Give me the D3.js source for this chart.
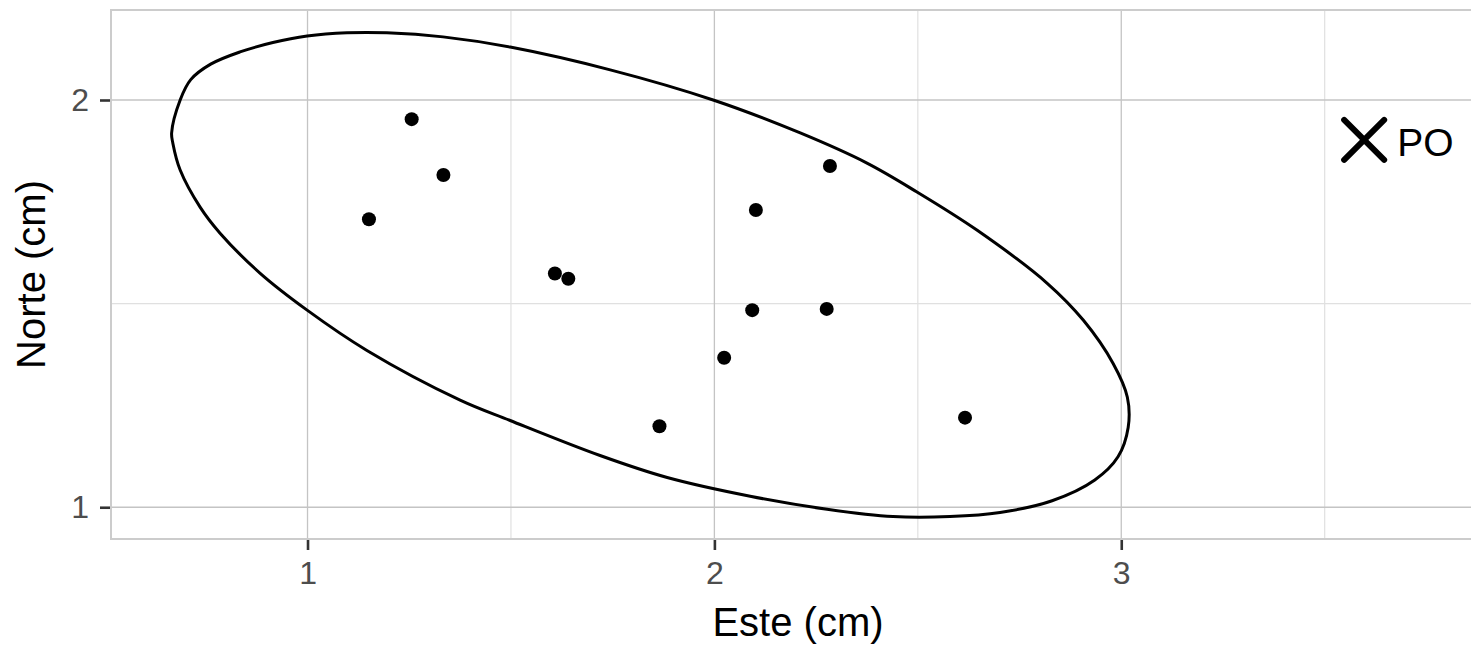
<!DOCTYPE html>
<html>
<head>
<meta charset="utf-8">
<script src="https://cdn.jsdelivr.net/npm/d3@7"></script>
<style>
  body { margin: 0; background: #ffffff; }
  svg { display: block; overflow: hidden; }
</style>
</head>
<body>
<script>
'use strict';

// puntos (Este, Norte) en cm
const esteVals  = [1.151, 1.256, 1.334, 1.608, 1.641, 1.865, 2.024, 2.093, 2.102, 2.276, 2.284, 2.616];
const norteVals = [1.707, 1.953, 1.816, 1.574, 1.561, 1.199, 1.367, 1.484, 1.730, 1.487, 1.838, 1.220];

// punto de observacion
const poLabel = "PO";
const poEste = 3.597;
const poNorte = 1.902;

// contorno de la elipse
const elipseEste = [0.666, 0.687, 0.713, 0.762, 0.834, 0.915, 0.999, 1.097, 1.195, 1.333, 1.498, 1.744, 1.997,
  2.211, 2.375, 2.498, 2.646, 2.818, 2.907, 2.980, 3.015, 3.017, 2.992, 2.935, 2.830, 2.702, 2.579,
  2.439, 2.277, 2.088, 1.884, 1.719, 1.498, 1.375, 1.146, 0.999, 0.883, 0.785, 0.736, 0.687, 0.669];
const elipseNorte = [1.919, 2.000, 2.050, 2.088, 2.118, 2.141, 2.157, 2.165, 2.165, 2.155, 2.130, 2.074, 2.000,
  1.919, 1.845, 1.774, 1.680, 1.550, 1.459, 1.353, 1.270, 1.196, 1.124, 1.067, 1.016, 0.987, 0.977,
  0.977, 0.995, 1.027, 1.073, 1.127, 1.213, 1.263, 1.385, 1.484, 1.575, 1.673, 1.737, 1.828, 1.894];

const xTicks = [1, 2, 3];
const yTicks = [1, 2];
const xMinor = [1.5, 2.5, 3.5];
const yMinor = [1.5];

const xTitle = "Este (cm)";
const yTitle = "Norte (cm)";

(function () {
  let svg = "";
  const W = 1471, H = 646;
  const panel = { left: 111, right: 1485, top: 10, bottom: 539 };
  const FONT = "'Liberation Sans', Arial, sans-serif";

  window.onload = function () {
    svg = d3.select('body')
      .append('svg')
      .attr('width', W)
      .attr('height', H);

    let scales = drawAxes();
    drawEllipse(scales);
    drawPoints(scales);
    drawPO(scales);
    makeLabels();
  };

  function drawAxes() {
    let xScale = d3.scaleLinear()
      .domain([0.517, 3.894])
      .range([panel.left, panel.right]);
    let yScale = d3.scaleLinear()
      .domain([0.922, 2.221])
      .range([panel.bottom, panel.top]);

    svg.append('rect')
      .attr('x', panel.left)
      .attr('y', panel.top)
      .attr('width', panel.right - panel.left)
      .attr('height', panel.bottom - panel.top)
      .attr('fill', '#ffffff');

    let grid = svg.append('g');
    grid.selectAll('.vminor').data(xMinor).enter().append('line')
      .attr('x1', (d) => xScale(d)).attr('x2', (d) => xScale(d))
      .attr('y1', panel.top).attr('y2', panel.bottom)
      .attr('stroke', '#e0e0e0').attr('stroke-width', 1.2);
    grid.selectAll('.hminor').data(yMinor).enter().append('line')
      .attr('y1', (d) => yScale(d)).attr('y2', (d) => yScale(d))
      .attr('x1', panel.left).attr('x2', panel.right)
      .attr('stroke', '#e0e0e0').attr('stroke-width', 1.2);
    grid.selectAll('.vmajor').data(xTicks).enter().append('line')
      .attr('x1', (d) => xScale(d)).attr('x2', (d) => xScale(d))
      .attr('y1', panel.top).attr('y2', panel.bottom)
      .attr('stroke', '#c4c4c4').attr('stroke-width', 1.3);
    grid.selectAll('.hmajor').data(yTicks).enter().append('line')
      .attr('y1', (d) => yScale(d)).attr('y2', (d) => yScale(d))
      .attr('x1', panel.left).attr('x2', panel.right)
      .attr('stroke', '#c4c4c4').attr('stroke-width', 1.3);

    svg.append('rect')
      .attr('x', panel.left)
      .attr('y', panel.top)
      .attr('width', panel.right - panel.left)
      .attr('height', panel.bottom - panel.top)
      .attr('fill', 'none')
      .attr('stroke', '#cccccc')
      .attr('stroke-width', 2);

    let xAxis = d3.axisBottom(xScale).tickValues(xTicks).tickSize(10).tickSizeOuter(0).tickPadding(11)
      .tickFormat(d3.format("d"));
    let gx = svg.append('g')
      .attr('transform', 'translate(0, ' + (panel.bottom + 1) + ')')
      .call(xAxis);
    let yAxis = d3.axisLeft(yScale).tickValues(yTicks).tickSize(10).tickSizeOuter(0).tickPadding(11)
      .tickFormat(d3.format("d"));
    let gy = svg.append('g')
      .attr('transform', 'translate(' + (panel.left - 1) + ', 0)')
      .call(yAxis);

    [gx, gy].forEach((g) => {
      g.select('.domain').remove();
      g.selectAll('.tick line').attr('stroke', '#333333').attr('stroke-width', 2.6);
      g.selectAll('.tick text')
        .attr('fill', '#4d4d4d')
        .style('font-family', FONT)
        .style('font-size', '32px');
    });

    return { x: xScale, y: yScale };
  }

  function drawEllipse(s) {
    let pts = elipseEste.map((e, i) => [e, elipseNorte[i]]);
    let line = d3.line()
      .x((d) => s.x(d[0]))
      .y((d) => s.y(d[1]))
      .curve(d3.curveCatmullRomClosed.alpha(0.5));
    svg.append('path')
      .datum(pts)
      .attr('fill', 'none')
      .attr('stroke', '#000000')
      .attr('stroke-width', 3)
      .attr('stroke-linejoin', 'round')
      .attr('d', line);
  }

  function drawPoints(s) {
    let pts = esteVals.map((e, i) => ({ este: e, norte: norteVals[i] }));
    svg.selectAll('.dot')
      .data(pts)
      .enter()
      .append('circle')
      .attr('class', 'dot')
      .attr('cx', (d) => s.x(d.este))
      .attr('cy', (d) => s.y(d.norte))
      .attr('r', 7)
      .attr('fill', '#000000');
  }

  function drawPO(s) {
    let cx = s.x(poEste), cy = s.y(poNorte), a = 20;
    svg.append('path')
      .attr('d', 'M' + (cx - a) + ',' + (cy - a) + 'L' + (cx + a) + ',' + (cy + a) +
                 'M' + (cx + a) + ',' + (cy - a) + 'L' + (cx - a) + ',' + (cy + a))
      .attr('stroke', '#000000')
      .attr('stroke-width', 6)
      .attr('stroke-linecap', 'round')
      .attr('fill', 'none');
    svg.append('text')
      .attr('x', cx + 33)
      .attr('y', cy)
      .attr('dy', '0.42em')
      .style('font-family', FONT)
      .style('font-size', '39px')
      .attr('fill', '#000000')
      .text(poLabel);
  }

  function makeLabels() {
    svg.append('text')
      .attr('x', (panel.left + panel.right) / 2)
      .attr('y', 636)
      .attr('text-anchor', 'middle')
      .style('font-family', FONT)
      .style('font-size', '40px')
      .text(xTitle);

    svg.append('text')
      .attr('transform', 'translate(45, ' + ((panel.top + panel.bottom) / 2) + ')rotate(-90)')
      .attr('text-anchor', 'middle')
      .style('font-family', FONT)
      .style('font-size', '40px')
      .text(yTitle);
  }
})();
</script>
</body>
</html>
